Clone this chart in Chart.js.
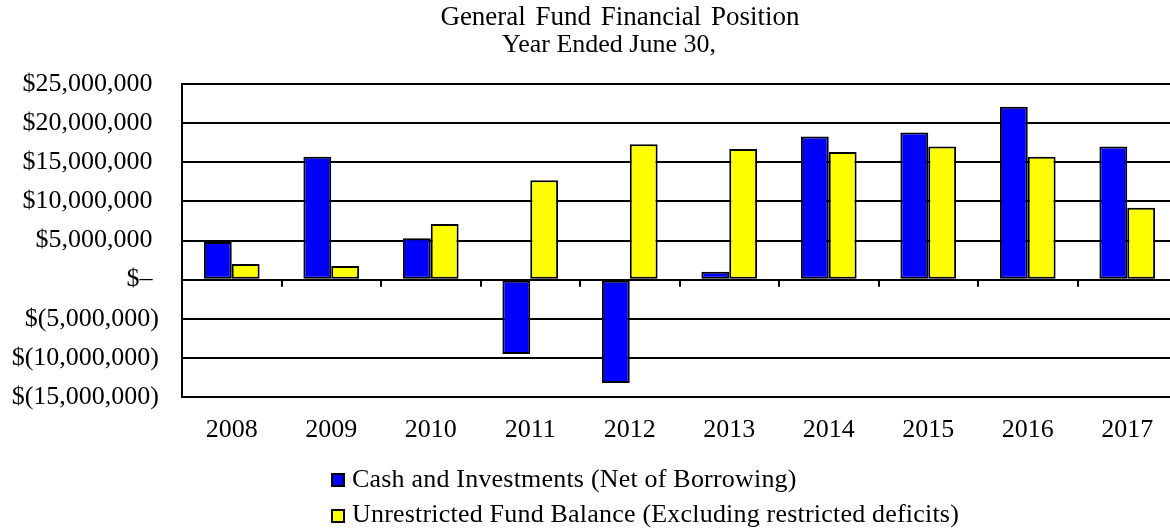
<!DOCTYPE html>
<html>
<head>
<meta charset="utf-8">
<script src="https://cdn.jsdelivr.net/npm/chart.js@4"></script>
<style>
  body { margin: 0; overflow: hidden; background: #fff; }
  .wrap { position: relative; width: 1170px; height: 531px; overflow: hidden; }
  canvas { position: absolute; left: 0; top: 0; }
  .txt { position: absolute; font-family: "Liberation Serif", "Times New Roman", serif; font-size: 26px; line-height: 26px; color: #000; white-space: nowrap; }
  .title { transform: translateX(-50%); }
  .box { position: absolute; width: 10px; height: 10px; border: 2px solid #000; }
</style>
</head>
<body>
<div class="wrap">
  <canvas id="fundChart" width="1180" height="531"></canvas>
  <div class="txt title" style="left:620px; top:3px; font-size:27px; word-spacing:3px;">General Fund Financial Position</div>
  <div class="txt title" style="left:609px; top:31px;">Year Ended June 30,</div>
  <div class="box" style="left:331px; top:473px; background:#0000ff;"></div>
  <div class="txt" style="left:352px; top:466px; letter-spacing:0.2px;">Cash and Investments (Net of Borrowing)</div>
  <div class="box" style="left:331px; top:509px; background:#ffff00;"></div>
  <div class="txt" style="left:352px; top:501px; letter-spacing:0.2px;">Unrestricted Fund Balance (Excluding restricted deficits)</div>
</div>
<script>
// Fiscal years
const years = ['2008', '2009', '2010', '2011', '2012', '2013', '2014', '2015', '2016', '2017'];
// Dollars
const cashInvestments = [4800000, 15700000, 5300000, -9500000, -13200000, 1000000, 18300000, 18800000, 22100000, 17000000];
const fundBalance = [2000000, 1750000, 7100000, 12700000, 17300000, 16700000, 16300000, 17000000, 15700000, 9200000];
const seriesNames = ['Cash and Investments (Net of Borrowing)', 'Unrestricted Fund Balance (Excluding restricted deficits)'];

function money(v) {
  if (v === 0) return '$\u2013 ';
  const s = Math.abs(v).toLocaleString('en-US');
  return v < 0 ? '$(' + s + ')' : '$' + s + ' ';
}

// small tick marks under the zero line between the years
const zeroTicks = {
  id: 'zeroTicks',
  afterDatasetsDraw(chart) {
    const x = chart.scales.x, y = chart.scales.y;
    const y0 = y.getPixelForValue(0);
    const ctx = chart.ctx;
    ctx.save();
    ctx.strokeStyle = '#000';
    ctx.lineWidth = 2;
    for (let i = 1; i < years.length; i++) {
      const px = Math.round((x.getPixelForTick(i - 1) + x.getPixelForTick(i)) / 2);
      ctx.beginPath();
      ctx.moveTo(px, y0);
      ctx.lineTo(px, y0 + 7);
      ctx.stroke();
    }
    ctx.restore();
  }
};

const font = { family: '"Liberation Serif", "Times New Roman", serif', size: 26 };

new Chart(document.getElementById('fundChart'), {
  type: 'bar',
  data: {
    labels: years,
    datasets: [{
      label: seriesNames[0],
      data: cashInvestments,
      backgroundColor: '#0000ff',
      borderColor: '#000',
      borderWidth: 2,
      borderSkipped: false
    }, {
      label: seriesNames[1],
      data: fundBalance,
      backgroundColor: '#ffff00',
      borderColor: '#000',
      borderWidth: 2,
      borderSkipped: false
    }]
  },
  options: {
    responsive: false,
    animation: false,
    categoryPercentage: 0.56,
    barPercentage: 1.0,
    layout: { padding: { top: 84, right: 3, left: 0, bottom: 0 } },
    plugins: {
      legend: { display: false },
      title: { display: false },
      tooltip: { enabled: false }
    },
    scales: {
      x: {
        grid: { display: false },
        border: { display: false },
        ticks: { color: '#000', font: font, padding: 10, maxRotation: 0 },
        afterFit(scale) { scale.height = 134; }
      },
      y: {
        min: -15000000,
        max: 25000000,
        grid: { color: '#000', lineWidth: 2, drawTicks: false },
        border: { display: true, color: '#000', width: 2 },
        ticks: {
          stepSize: 5000000,
          color: '#000',
          font: font,
          padding: 23,
          callback: (v) => money(v)
        },
        afterFit(scale) { scale.width = 182; }
      }
    }
  },
  plugins: [zeroTicks]
});
</script>
</body>
</html>
